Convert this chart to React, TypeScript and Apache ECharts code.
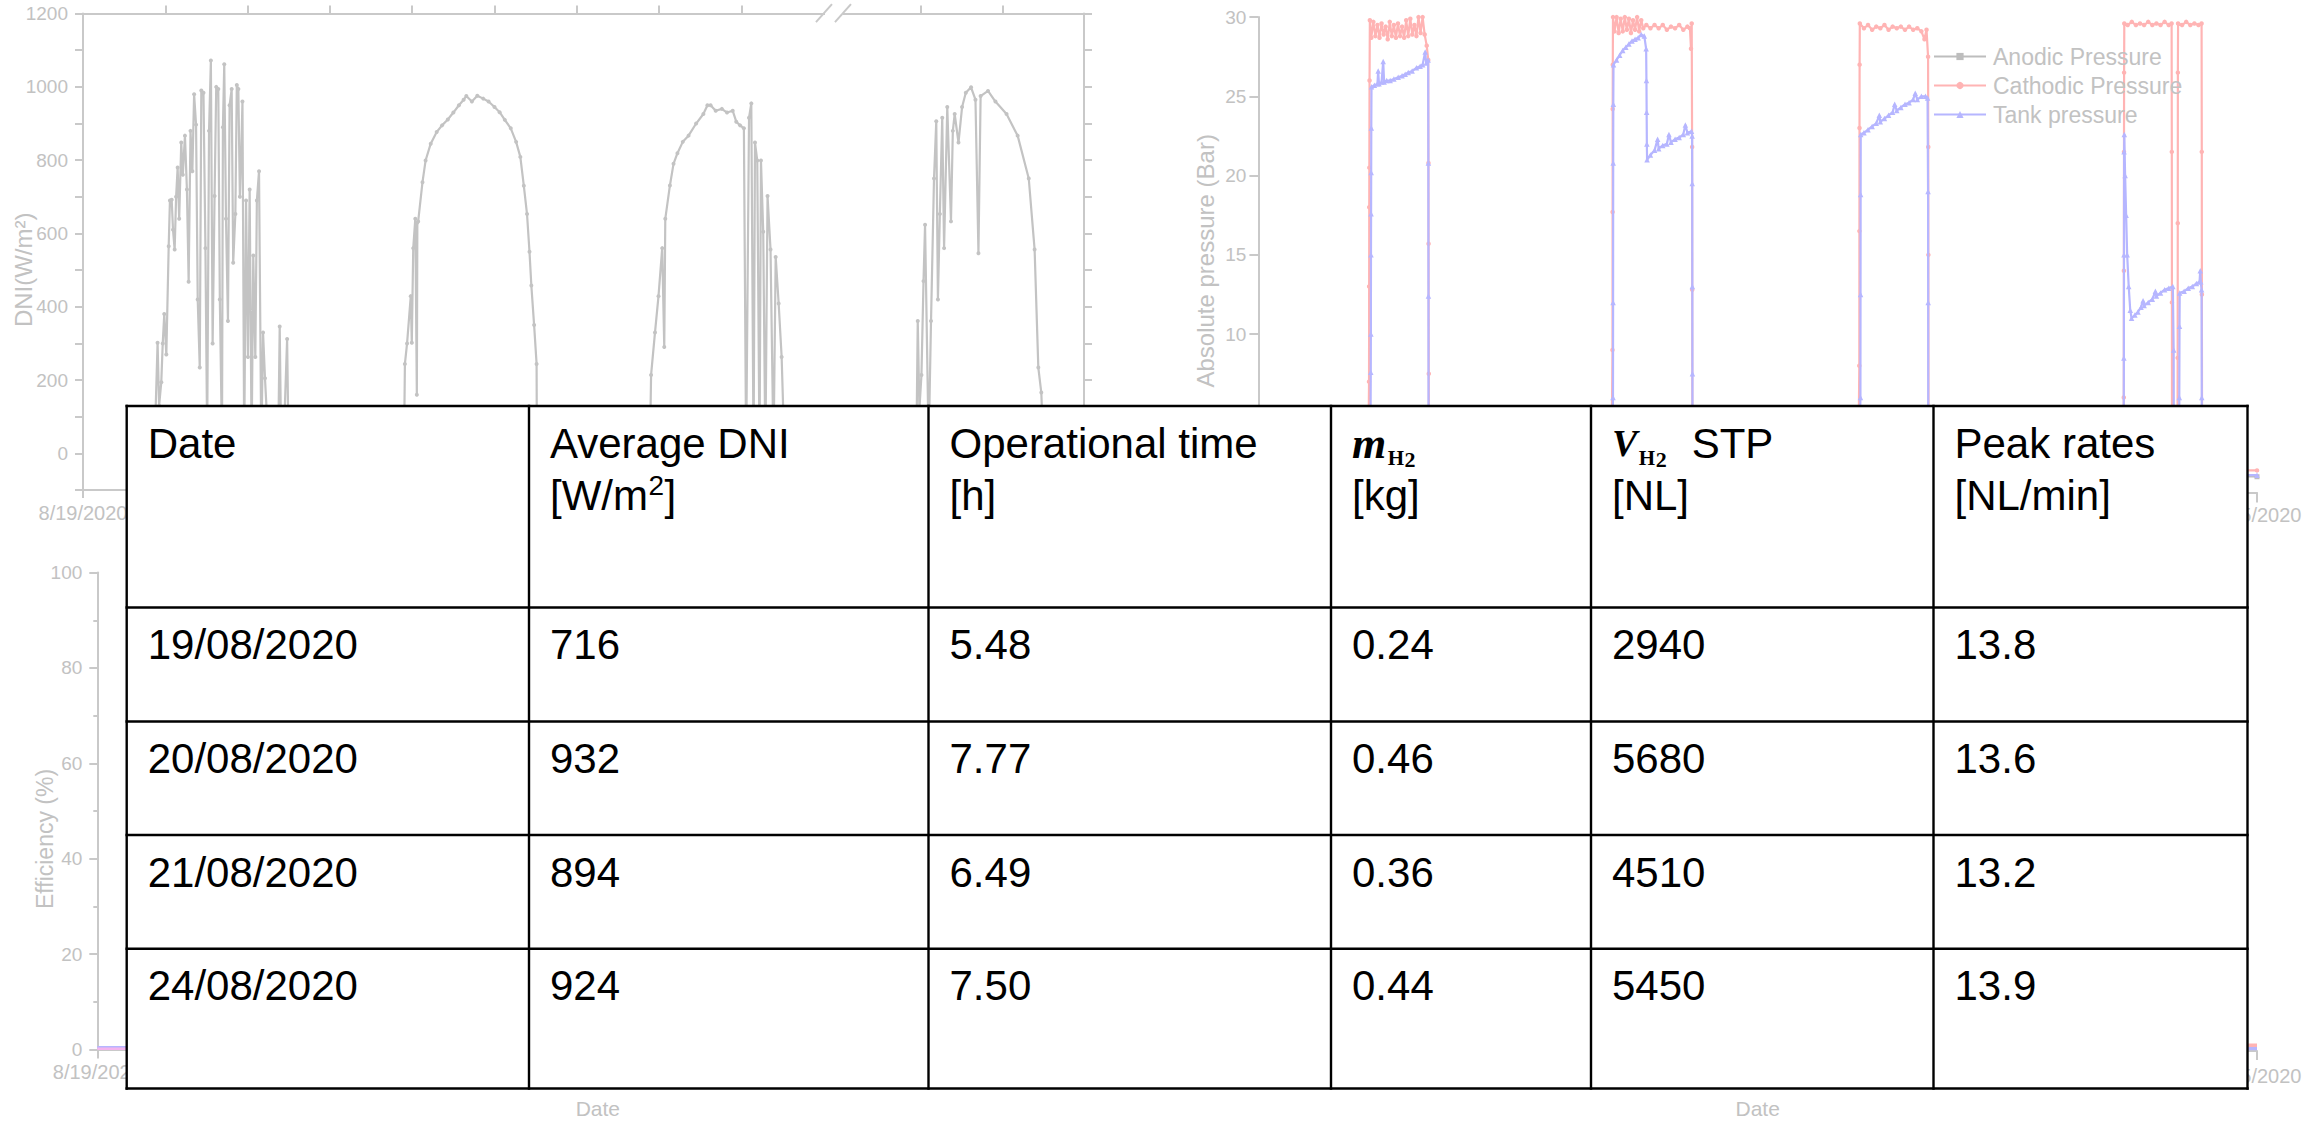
import React, { useEffect, useRef } from 'react';
import * as echarts from 'echarts';

// ---------------- Table data ----------------
const columnTitles = ['Date', 'Average DNI', 'Operational time', 'm', 'V', 'Peak rates'];
const columnSubBase = ['', '', '', 'H', 'H', ''];
const columnSubIndex = ['', '', '', '2', '2', ''];
const columnTitleSuffix = ['', '', '', '', 'STP', ''];
const columnUnits = ['', '[W/m²]', '[h]', '[kg]', '[NL]', '[NL/min]'];

const dates = ['19/08/2020', '20/08/2020', '21/08/2020', '24/08/2020'];
const averageDNI = [716, 932, 894, 924];
const operationalTime = [5.48, 7.77, 6.49, 7.5];
const hydrogenMass = [0.24, 0.46, 0.36, 0.44];
const hydrogenVolume = [2940, 5680, 4510, 5450];
const peakRates = [13.8, 13.6, 13.2, 13.9];

// ---------------- Background chart data ----------------
// hours on the (broken) time axis at which each plotted day starts
const DAY_OFFSETS = [0, 24, 48, 73.4];
const AXIS_END = 97.3;
const AXIS_BREAK_HOUR = 72.9;
const dateTickValues = [0, 24, 48, 73.4, 97.3];
const dateTickLabels = ['8/19/2020', '8/20/2020', '8/21/2020', '8/24/2020', '8/25/2020'];
const dniTopTicks = [8, 16, 24, 32, 40, 48, 56, 64, 81.4, 89.4];
const dniTickValues = [-100, 0, 100, 200, 300, 400, 500, 600, 700, 800, 900, 1000, 1100, 1200];
const dniLabelValues = [0, 200, 400, 600, 800, 1000, 1200];

// DNI [hour of day, W/m2]
const dniDay1 = [
  [7.0, 0], [7.03, 90], [7.25, 302], [7.4, 130], [7.61, 194], [7.75, 300], [7.9, 380], [8.1, 270],
  [8.33, 565], [8.45, 690], [8.62, 692], [8.75, 610], [8.91, 556], [9.05, 700], [9.2, 780], [9.35, 640],
  [9.55, 848], [9.7, 760], [9.91, 867], [10.1, 720], [10.27, 468], [10.45, 880], [10.63, 770], [10.8, 980],
  [10.99, 897], [11.15, 420], [11.35, 234], [11.5, 990], [11.71, 984], [11.9, 560], [12.07, 40], [12.25, 880],
  [12.43, 1072], [12.6, 300], [12.79, 702], [12.95, 1000], [13.15, 994], [13.3, 420], [13.51, 30], [13.6, 890],
  [13.73, 1062], [13.9, 640], [14.09, 361], [14.25, 950], [14.45, 994], [14.6, 520], [14.81, 653], [14.95, 1005],
  [15.1, 994], [15.25, 700], [15.38, 819], [15.5, 960], [15.67, 20], [15.85, 690], [16.03, 263], [16.2, 720],
  [16.39, 20], [16.55, 540], [16.75, 263], [16.9, 690], [17.11, 770], [17.33, 20], [17.5, 330], [17.69, 205],
  [17.9, 90], [18.5, 60], [19.0, 80], [19.12, 346], [19.26, 20], [19.6, 110], [19.84, 312], [19.99, 0],
];
const dniDay2 = [
  [7.2, 0], [7.29, 244], [7.5, 300], [7.86, 429], [7.96, 302], [8.1, 560], [8.3, 640], [8.45, 160], [8.5, 630],
  [8.58, 633], [9.0, 740], [9.3, 799], [9.8, 845], [10.38, 877], [10.9, 895], [11.46, 911], [12.0, 930],
  [12.54, 950], [13.0, 965], [13.26, 975], [13.8, 960], [14.33, 976], [14.9, 968], [15.42, 960], [16.0, 945],
  [16.5, 931], [17.0, 910], [17.58, 887], [18.1, 850], [18.51, 809], [18.85, 730], [19.16, 653], [19.4, 550],
  [19.58, 458], [19.85, 350], [20.09, 244], [20.12, 0],
];
const dniDay3 = [
  [7.1, 0], [7.22, 214], [7.6, 330], [7.94, 429], [8.3, 560], [8.5, 290], [8.6, 640], [9.05, 731], [9.4, 790],
  [9.78, 819], [10.3, 850], [10.86, 867], [11.6, 900], [12.3, 926], [12.7, 950], [13.0, 950], [13.5, 935],
  [14.1, 940], [14.6, 930], [15.15, 935], [15.5, 905], [15.87, 895], [16.24, 887], [16.46, 0], [16.74, 916],
  [16.96, 955], [17.18, 0], [17.32, 848], [17.54, 799], [17.76, 0], [17.9, 799], [18.12, 605], [18.33, 0],
  [18.54, 702], [18.83, 556], [19.12, 0], [19.33, 536], [19.62, 409], [19.91, 263], [20.19, 0],
];
const dniDay4 = [
  [7.6, 0], [7.74, 361], [7.9, 120], [8.1, 214], [8.3, 470], [8.45, 624], [8.8, 20], [9.03, 361], [9.32, 750],
  [9.54, 906], [9.7, 420], [9.89, 653], [10.12, 916], [10.3, 560], [10.61, 945], [10.97, 633], [11.15, 880],
  [11.33, 926], [11.7, 848], [12.05, 945], [12.41, 984], [12.92, 999], [13.35, 965], [13.64, 546], [13.85, 975],
  [14.57, 989], [15.29, 960], [16.37, 926], [17.45, 867], [18.53, 750], [19.1, 556], [19.46, 234], [19.75, 166],
  [19.97, 0],
];

// pressures [hour of day, bar]
const cathodicDay1 = [
  [0, 1.4], [10.7, 1.4], [10.78, 7.0], [10.79, 13.0], [10.8, 18.0], [10.81, 20.5], [10.83, 26.0], [10.86, 29.8],
  [11.0, 28.7], [11.2, 29.7], [11.4, 28.8], [11.6, 29.5], [11.8, 28.7], [12.0, 29.6], [12.2, 28.9], [12.4, 29.4],
  [12.6, 28.6], [12.8, 29.7], [13.0, 28.8], [13.2, 29.5], [13.4, 28.7], [13.6, 29.6], [13.8, 28.8], [14.0, 29.4],
  [14.2, 28.7], [14.4, 29.8], [14.6, 28.8], [14.8, 29.9], [15.0, 28.9], [15.2, 29.5], [15.4, 28.8], [15.6, 30.0],
  [15.8, 29.0], [16.0, 30.0], [16.2, 28.9], [16.4, 28.2], [16.55, 27.3], [16.57, 20.8], [16.58, 15.7],
  [16.6, 7.5], [16.62, 1.4],
];
const cathodicDay2 = [
  [10.4, 1.4], [10.5, 9.0], [10.51, 17.7], [10.52, 24.2], [10.53, 27.0], [10.55, 30.0], [10.7, 29.1], [10.9, 30.0],
  [11.1, 29.0], [11.3, 29.9], [11.5, 29.1], [11.7, 30.0], [11.9, 29.2], [12.1, 29.9], [12.3, 29.0], [12.5, 29.8],
  [12.7, 29.2], [12.9, 30.0], [13.1, 29.1], [13.3, 29.8], [13.5, 29.3], [13.8, 29.5], [14.2, 29.3], [14.6, 29.5],
  [15.0, 29.3], [15.4, 29.5], [15.8, 29.2], [16.2, 29.4], [16.6, 29.3], [17.0, 29.5], [17.4, 29.2], [17.8, 29.4],
  [18.05, 29.3], [18.15, 28.0], [18.22, 29.6], [18.26, 21.8], [18.27, 12.8], [18.29, 1.4],
];
const cathodicDay3 = [
  [10.45, 1.4], [10.55, 8.0], [10.56, 16.5], [10.57, 23.0], [10.58, 27.0], [10.6, 29.6], [11.0, 29.3],
  [11.4, 29.5], [11.8, 29.2], [12.2, 29.4], [12.6, 29.3], [13.0, 29.5], [13.4, 29.2], [13.8, 29.4], [14.2, 29.3],
  [14.6, 29.4], [15.0, 29.2], [15.4, 29.4], [15.8, 29.2], [16.2, 29.3], [16.6, 29.1], [16.9, 28.6], [17.1, 29.2],
  [17.25, 27.5], [17.27, 21.8], [17.28, 15.0], [17.3, 1.4],
];
const cathodicDay4 = [
  [10.85, 1.4], [10.92, 6.0], [10.93, 14.0], [10.94, 21.5], [10.95, 26.5], [10.97, 29.6], [11.3, 29.5],
  [11.7, 29.7], [12.1, 29.5], [12.5, 29.6], [12.9, 29.5], [13.3, 29.7], [13.7, 29.5], [14.1, 29.6], [14.5, 29.5],
  [14.9, 29.7], [15.3, 29.5], [15.58, 29.6], [15.6, 21.5], [15.61, 12.0], [15.62, 1.4], [16.15, 1.4],
  [16.17, 8.5], [16.18, 17.0], [16.19, 26.5], [16.21, 29.6], [16.6, 29.5], [17.0, 29.7], [17.4, 29.5],
  [17.8, 29.6], [18.2, 29.5], [18.5, 29.6], [18.52, 21.5], [18.53, 12.5], [18.55, 1.4], [23.9, 1.4],
];
const tankDay1 = [
  [0, 1.1], [10.9, 1.1], [10.95, 7.6], [10.96, 10.0], [10.97, 15.0], [10.98, 17.6], [10.99, 20.2], [11.0, 23.0],
  [11.02, 25.6], [11.3, 25.7], [11.6, 25.8], [11.67, 26.6], [11.75, 25.8], [12.0, 25.9], [12.16, 27.2],
  [12.25, 25.9], [12.5, 26.0], [12.84, 26.0], [13.2, 26.1], [13.62, 26.2], [14.0, 26.3], [14.3, 26.4],
  [14.6, 26.5], [14.98, 26.6], [15.4, 26.8], [15.76, 26.9], [16.0, 27.0], [16.25, 27.8], [16.35, 27.1],
  [16.54, 27.3], [16.56, 20.8], [16.57, 12.4], [16.58, 1.1],
];
const tankDay2 = [
  [10.45, 1.1], [10.55, 6.0], [10.56, 12.0], [10.57, 20.8], [10.58, 24.5], [10.6, 27.0], [10.9, 27.3],
  [11.2, 27.6], [11.5, 27.9], [11.8, 28.1], [12.1, 28.3], [12.4, 28.5], [12.7, 28.6], [13.0, 28.7],
  [13.3, 28.9], [13.6, 28.8], [13.78, 28.0], [13.81, 26.0], [13.83, 24.0], [13.85, 22.0], [13.87, 21.0],
  [14.2, 21.3], [14.6, 21.6], [14.9, 22.3], [15.0, 21.7], [15.4, 21.9], [15.8, 22.0], [16.0, 22.6], [16.2, 22.1],
  [16.6, 22.3], [17.0, 22.4], [17.4, 22.6], [17.6, 23.2], [17.8, 22.7], [18.2, 22.8], [18.26, 22.5],
  [18.27, 19.5], [18.28, 13.0], [18.29, 7.5], [18.3, 1.1],
];
const tankDay3 = [
  [10.5, 1.1], [10.66, 6.0], [10.67, 12.5], [10.68, 18.8], [10.69, 22.6], [11.0, 22.7], [11.4, 22.9],
  [11.8, 23.1], [12.2, 23.3], [12.5, 23.8], [12.6, 23.4], [13.0, 23.6], [13.4, 23.8], [13.8, 24.0], [14.0, 24.5],
  [14.2, 24.1], [14.6, 24.3], [15.0, 24.5], [15.4, 24.6], [15.8, 24.8], [16.0, 25.2], [16.2, 24.8], [16.6, 25.0],
  [17.0, 25.0], [17.2, 24.9], [17.25, 19.0], [17.26, 12.0], [17.27, 1.1],
];
const tankDay4 = [
  [10.9, 1.1], [10.93, 8.5], [10.94, 15.0], [10.95, 21.5], [10.97, 22.6], [11.05, 20.0], [11.15, 17.5],
  [11.25, 15.0], [11.4, 13.0], [11.55, 11.5], [11.68, 11.0], [12.0, 11.2], [12.3, 11.4], [12.6, 11.7],
  [12.8, 12.1], [12.9, 11.8], [13.3, 12.0], [13.7, 12.2], [14.0, 12.7], [14.1, 12.4], [14.5, 12.6],
  [14.9, 12.8], [15.3, 12.9], [15.7, 13.0], [15.78, 9.0], [15.8, 1.1], [16.3, 1.1], [16.33, 6.0],
  [16.35, 10.5], [16.37, 12.6], [16.8, 12.7], [17.2, 12.9], [17.6, 13.0], [18.0, 13.2], [18.3, 13.3],
  [18.37, 14.0], [18.42, 13.3], [18.5, 12.8], [18.52, 6.0], [18.53, 1.1], [23.9, 1.1],
];
const anodicPressure = [[0, 1.0], [24, 1.0], [48, 1.0], [73.4, 1.0], [97.3, 1.0]];

// efficiency panel (only the night-time start is visible) and lower-right panel end
const efficiencyA = [[0, 0.45], [2, 0.45], [4, 0.45], [6.5, 0.45]];
const efficiencyB = [[0, 0.15], [2, 0.15], [4, 0.15], [6.5, 0.15]];
const productionA = [[95.6, 1.2], [96.4, 1.2], [97.3, 1.2]];
const productionB = [[95.6, 0.5], [96.4, 0.5], [97.3, 0.5]];

// ---------------- Layout / style ----------------
const W = 2318;
const H = 1121;
const SANS = '"Liberation Sans", Arial, sans-serif';
const SERIF = '"Liberation Serif", "Times New Roman", serif';
const AXIS_GRAY = '#c9c9c9';
const TEXT_GRAY = '#c2c2c2';
const DNI_GRAY = '#c3c3c3';
const PINK = '#ffb4b4';
const BLUE = '#b6b6ff';
const MAGENTA = '#f4b4ee';

const TABLE_X = [126.7, 529, 928.5, 1331, 1591, 1933.5, 2247.5];
const TABLE_Y = [406, 607.5, 721.5, 835, 948.7, 1088.5];
const CELL_PAD = 21;
const LINE1 = 37;
const LINE2 = 89;
const BODY_FONT = `42px ${SANS}`;

const GRID_DNI = { left: 83, top: 13.6, width: 1001, height: 476.4 };
const GRID_P = { left: 1258.4, top: 17.1, width: 998.6, height: 475.5 };
const GRID_EFF = { left: 97.3, top: 572.6, width: 1001, height: 476.8 };
const GRID_BR = { left: 1258.4, top: 572.6, width: 998.6, height: 478.4 };

const withDays = (days: number[][][]) =>
  days.flatMap((day, i) => day.map(([h, v]) => [DAY_OFFSETS[i] + h, v]));

const labelFor = (v: number) => {
  const i = dateTickValues.findIndex((t) => Math.abs(t - v) < 0.01);
  return i >= 0 ? dateTickLabels[i] : '';
};

let measureCtx: CanvasRenderingContext2D | null = null;
function textWidth(text: string, font: string) {
  if (!measureCtx) measureCtx = document.createElement('canvas').getContext('2d');
  measureCtx!.font = font;
  return measureCtx!.measureText(text).width;
}

function txt(text: string, x: number, y: number, font: string, fill = '#000') {
  return {
    type: 'text',
    x,
    y,
    z: 110,
    silent: true,
    style: {
      text,
      font,
      fill,
      align: 'left',
      verticalAlign: 'middle',
      textAlign: 'left',
      textVerticalAlign: 'middle',
    },
  };
}

function buildTable(): any[] {
  const els: any[] = [];
  const left = TABLE_X[0];
  const right = TABLE_X[TABLE_X.length - 1];
  const top = TABLE_Y[0];
  const bottom = TABLE_Y[TABLE_Y.length - 1];
  els.push({
    type: 'rect', z: 100, silent: true,
    shape: { x: left, y: top, width: right - left, height: bottom - top },
    style: { fill: '#ffffff' },
  });
  TABLE_X.forEach((x) =>
    els.push({
      type: 'line', z: 105, silent: true,
      shape: { x1: x, y1: top - 1.2, x2: x, y2: bottom + 1.2 },
      style: { stroke: '#000', lineWidth: 2.4 },
    })
  );
  TABLE_Y.forEach((y) =>
    els.push({
      type: 'line', z: 105, silent: true,
      shape: { x1: left - 1.2, y1: y, x2: right + 1.2, y2: y },
      style: { stroke: '#000', lineWidth: 2.6 },
    })
  );

  // header
  columnTitles.forEach((title, c) => {
    let x = TABLE_X[c] + CELL_PAD;
    const y1 = top + LINE1;
    const y2 = top + LINE2;
    if (columnSubBase[c]) {
      const mathFont = title === 'm' ? `italic bold 44px ${SERIF}` : `italic bold 38px ${SERIF}`;
      els.push(txt(title, x, y1, mathFont));
      x += textWidth(title, mathFont) + 1.5;
      const subFont = `bold 21px ${SERIF}`;
      els.push(txt(columnSubBase[c], x, y1 + 15, subFont));
      x += textWidth(columnSubBase[c], subFont) + 0.5;
      const idxFont = `bold 22px ${SERIF}`;
      els.push(txt(columnSubIndex[c], x, y1 + 16.5, idxFont));
      x += textWidth(columnSubIndex[c], idxFont);
      if (columnTitleSuffix[c]) {
        x += 25;
        els.push(txt(columnTitleSuffix[c], x, y1, BODY_FONT));
      }
    } else {
      els.push(txt(title, x, y1, BODY_FONT));
    }
    const unit = columnUnits[c];
    if (unit) {
      const ux = TABLE_X[c] + CELL_PAD;
      const supPos = unit.indexOf('²');
      if (supPos >= 0) {
        const before = unit.slice(0, supPos);
        const after = unit.slice(supPos + 1);
        els.push(txt(before, ux, y2, BODY_FONT));
        const bx = ux + textWidth(before, BODY_FONT) + 0.5;
        const supFont = `28px ${SANS}`;
        els.push(txt('2', bx, y2 - 10, supFont));
        els.push(txt(after, bx + textWidth('2', supFont) + 0.5, y2, BODY_FONT));
      } else {
        els.push(txt(unit, ux, y2, BODY_FONT));
      }
    }
  });

  // body rows
  const columns: string[][] = [
    dates,
    averageDNI.map((v) => v.toFixed(0)),
    operationalTime.map((v) => v.toFixed(2)),
    hydrogenMass.map((v) => v.toFixed(2)),
    hydrogenVolume.map((v) => v.toFixed(0)),
    peakRates.map((v) => v.toFixed(1)),
  ];
  columns.forEach((col, c) =>
    col.forEach((val, r) => {
      els.push(txt(val, TABLE_X[c] + CELL_PAD, TABLE_Y[r + 1] + LINE1, BODY_FONT));
    })
  );
  return els;
}

function breakMarks(cx: number, y: number): any[] {
  const style = { stroke: AXIS_GRAY, lineWidth: 2 };
  return [
    { type: 'rect', z: 50, silent: true, shape: { x: cx - 8, y: y - 3, width: 18, height: 6 }, style: { fill: '#fff' } },
    { type: 'line', z: 51, silent: true, shape: { x1: cx - 17, y1: y + 8.5, x2: cx - 1, y2: y - 9.5 }, style },
    { type: 'line', z: 51, silent: true, shape: { x1: cx + 2, y1: y + 8.5, x2: cx + 18, y2: y - 9.5 }, style },
  ];
}

const axisLine = { show: true, onZero: false, lineStyle: { color: AXIS_GRAY, width: 2 } };
const tickStyle = { color: AXIS_GRAY, width: 2 };
const labelBase = { color: TEXT_GRAY, fontFamily: SANS };

function buildOption(): any {
  return {
    animation: false,
    backgroundColor: '#ffffff',
    textStyle: { fontFamily: SANS },
    grid: [
      { ...GRID_DNI, outerBoundsMode: 'none', containLabel: false },
      { ...GRID_P, outerBoundsMode: 'none', containLabel: false },
      { ...GRID_EFF, outerBoundsMode: 'none', containLabel: false },
      { ...GRID_BR, outerBoundsMode: 'none', containLabel: false },
    ],
    legend: {
      data: ['Anodic Pressure', 'Cathodic Pressure', 'Tank pressure'],
      orient: 'vertical',
      left: 1933,
      top: 45,
      itemWidth: 52,
      itemHeight: 9,
      itemGap: 6,
      padding: 0,
      textStyle: { color: TEXT_GRAY, fontSize: 23, fontFamily: SANS, padding: [0, 0, 0, 2] },
    },
    xAxis: [
      {
        gridIndex: 0, type: 'value', min: 0, max: AXIS_END, position: 'bottom',
        axisLine, splitLine: { show: false },
        axisTick: { show: true, customValues: [0, 24, 48, 73.4, 97.3], length: 8, lineStyle: tickStyle },
        axisLabel: { show: true, customValues: [0], formatter: labelFor, fontSize: 20, margin: 13, ...labelBase },
      },
      {
        gridIndex: 0, type: 'value', min: 0, max: AXIS_END, position: 'top',
        axisLine, splitLine: { show: false },
        axisTick: { show: true, customValues: dniTopTicks, length: 8, lineStyle: tickStyle },
        axisLabel: { show: false },
      },
      {
        gridIndex: 1, type: 'value', min: 0, max: AXIS_END, position: 'bottom',
        axisLine, splitLine: { show: false },
        axisTick: { show: true, customValues: [97.3], length: 10, lineStyle: tickStyle },
        axisLabel: { show: true, customValues: [97.3], formatter: labelFor, fontSize: 20, margin: 12, ...labelBase },
      },
      {
        gridIndex: 2, type: 'value', min: 0, max: AXIS_END, position: 'bottom',
        axisLine, splitLine: { show: false },
        name: 'Date', nameLocation: 'middle', nameGap: 49, nameMoveOverlap: false,
        nameTextStyle: { color: TEXT_GRAY, fontSize: 21, fontFamily: SANS },
        axisTick: { show: true, customValues: [0], length: 9, lineStyle: tickStyle },
        axisLabel: { show: true, customValues: [0], formatter: labelFor, fontSize: 20, margin: 13, ...labelBase },
      },
      {
        gridIndex: 3, type: 'value', min: 0, max: AXIS_END, position: 'bottom',
        axisLine, splitLine: { show: false },
        name: 'Date', nameLocation: 'middle', nameGap: 47, nameMoveOverlap: false,
        nameTextStyle: { color: TEXT_GRAY, fontSize: 21, fontFamily: SANS },
        axisTick: { show: true, customValues: [97.3], length: 9, lineStyle: tickStyle },
        axisLabel: { show: true, customValues: [97.3], formatter: labelFor, fontSize: 20, margin: 15, ...labelBase },
      },
    ],
    yAxis: [
      {
        gridIndex: 0, type: 'value', min: -100, max: 1200, position: 'left',
        name: 'DNI(W/m²)', nameLocation: 'middle', nameGap: 48, nameMoveOverlap: false,
        nameTextStyle: { color: TEXT_GRAY, fontSize: 24, fontFamily: SANS, padding: [0, 36, 0, 0] },
        axisLine, splitLine: { show: false },
        axisTick: { show: true, customValues: dniTickValues, length: 8, lineStyle: tickStyle },
        axisLabel: {
          show: true, customValues: dniLabelValues, margin: 15, fontSize: 19, ...labelBase,
          formatter: (v: number) => (v >= 0 && v % 200 === 0 ? String(v) : ''),
        },
      },
      {
        gridIndex: 0, type: 'value', min: -100, max: 1200, position: 'right',
        axisLine, splitLine: { show: false },
        axisTick: { show: true, customValues: dniTickValues, length: 8, lineStyle: tickStyle },
        axisLabel: { show: false },
      },
      {
        gridIndex: 1, type: 'value', min: 0, max: 30, interval: 5, position: 'left',
        name: 'Absolute pressure (Bar)', nameLocation: 'middle', nameGap: 40.5, nameMoveOverlap: false,
        nameTextStyle: { color: TEXT_GRAY, fontSize: 24, fontFamily: SANS, padding: [0, 12, 0, 0] },
        axisLine, splitLine: { show: false },
        axisTick: { show: true, length: 9, lineStyle: tickStyle },
        axisLabel: { show: true, margin: 12, fontSize: 19, ...labelBase },
      },
      {
        gridIndex: 2, type: 'value', min: 0, max: 100, interval: 20, position: 'left',
        name: 'Efficiency (%)', nameLocation: 'middle', nameGap: 41, nameMoveOverlap: false,
        nameTextStyle: { color: TEXT_GRAY, fontSize: 23, fontFamily: SANS, padding: [0, 56, 0, 0] },
        axisLine, splitLine: { show: false },
        axisTick: { show: true, length: 8, lineStyle: tickStyle },
        minorTick: { show: true, splitNumber: 2, length: 4, lineStyle: tickStyle },
        axisLabel: { show: true, margin: 15, fontSize: 19, ...labelBase },
      },
      {
        gridIndex: 3, type: 'value', min: 0, max: 100, interval: 20, position: 'left',
        show: false,
      },
    ],
    series: [
      {
        type: 'line', name: 'DNI', xAxisIndex: 0, yAxisIndex: 0, data: withDays([dniDay1, dniDay2, dniDay3, dniDay4]),
        symbol: 'circle', symbolSize: 4, showAllSymbol: true,
        lineStyle: { color: DNI_GRAY, width: 2.2 }, itemStyle: { color: DNI_GRAY }, z: 2,
      },
      {
        type: 'line', name: 'Anodic Pressure', xAxisIndex: 2, yAxisIndex: 2, data: anodicPressure,
        symbol: 'rect', symbolSize: 5, showAllSymbol: true,
        lineStyle: { color: '#bdbdbd', width: 1.5 }, itemStyle: { color: '#bdbdbd' }, z: 2,
      },
      {
        type: 'line', name: 'Cathodic Pressure', xAxisIndex: 2, yAxisIndex: 2,
        data: withDays([cathodicDay1, cathodicDay2, cathodicDay3, cathodicDay4]),
        symbol: 'circle', symbolSize: 4.5, showAllSymbol: true,
        lineStyle: { color: PINK, width: 2.2 }, itemStyle: { color: PINK }, z: 3,
      },
      {
        type: 'line', name: 'Tank pressure', xAxisIndex: 2, yAxisIndex: 2,
        data: withDays([tankDay1, tankDay2, tankDay3, tankDay4]),
        symbol: 'triangle', symbolSize: 5.5, showAllSymbol: true,
        lineStyle: { color: BLUE, width: 2.2 }, itemStyle: { color: BLUE }, z: 4,
      },
      {
        type: 'line', name: 'Efficiency A', xAxisIndex: 3, yAxisIndex: 3, data: efficiencyA,
        symbol: 'none', lineStyle: { color: BLUE, width: 2.5 }, z: 3,
      },
      {
        type: 'line', name: 'Efficiency B', xAxisIndex: 3, yAxisIndex: 3, data: efficiencyB,
        symbol: 'none', lineStyle: { color: MAGENTA, width: 2.5 }, z: 4,
      },
      {
        type: 'line', name: 'Rate A', xAxisIndex: 4, yAxisIndex: 4, data: productionB,
        symbol: 'none', lineStyle: { color: BLUE, width: 3.5 }, z: 3,
      },
      {
        type: 'line', name: 'Rate B', xAxisIndex: 4, yAxisIndex: 4, data: productionA,
        symbol: 'none', lineStyle: { color: PINK, width: 3.5 }, z: 4,
      },
    ],
  };
}

export default function App() {
  const ref = useRef<HTMLDivElement>(null);
  useEffect(() => {
    const chart = echarts.init(ref.current!, null, { renderer: 'svg' });
    chart.setOption(buildOption());
    let bx = GRID_DNI.left + (AXIS_BREAK_HOUR / AXIS_END) * GRID_DNI.width;
    const conv = chart.convertToPixel({ xAxisIndex: 1 } as any, AXIS_BREAK_HOUR) as any;
    if (typeof conv === 'number' && isFinite(conv)) bx = conv;
    chart.setOption({ graphic: [...breakMarks(bx, GRID_DNI.top), ...buildTable()] });
    return () => chart.dispose();
  }, []);
  return <div ref={ref} style={{ position: 'fixed', left: 0, top: 0, width: W, height: H, background: '#fff' }} />;
}
